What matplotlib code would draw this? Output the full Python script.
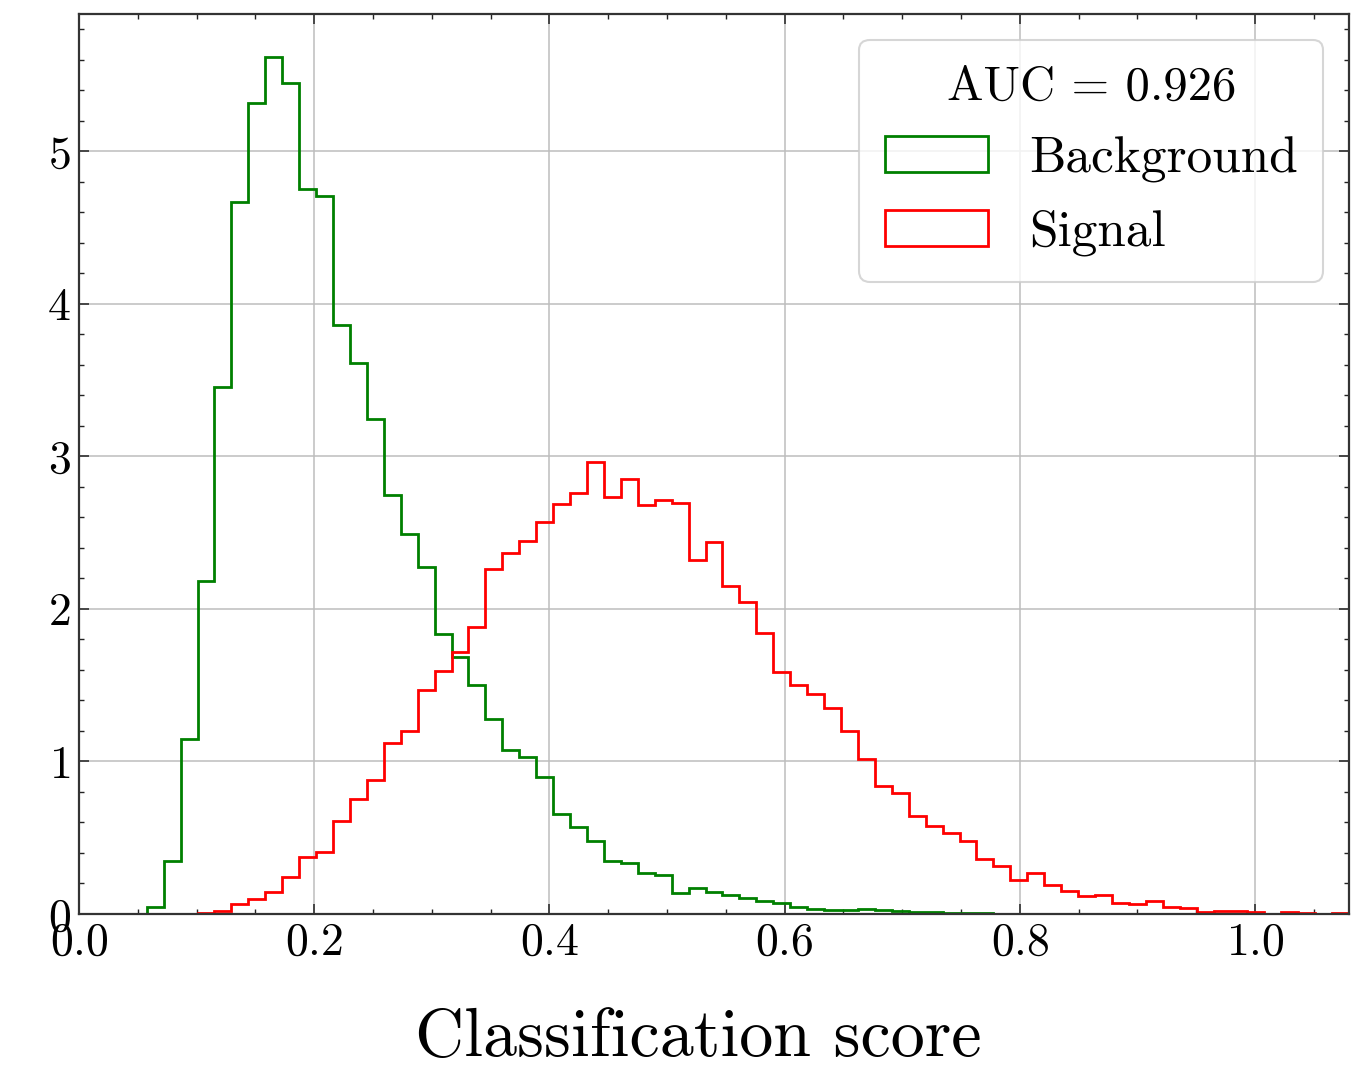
import numpy as np
import matplotlib
matplotlib.use("Agg")
import matplotlib.pyplot as plt

# ---- data (bin heights, 75 bins on [0, 1.08]) ----
x_min, x_max, n_bins = 0.0, 1.08, 75

background = [
    0.0, 0.0, 0.0, 0.0, 0.048, 0.347, 1.147, 2.182, 3.455, 4.668,
    5.319, 5.618, 5.448, 4.755, 4.707, 3.864, 3.615, 3.246, 2.744, 2.490,
    2.276, 1.836, 1.686, 1.501, 1.276, 1.075, 1.027, 0.896, 0.655, 0.572,
    0.478, 0.349, 0.332, 0.271, 0.256, 0.140, 0.172, 0.142, 0.122, 0.105,
    0.085, 0.070, 0.045, 0.030, 0.027, 0.028, 0.030, 0.027, 0.022, 0.015,
    0.010, 0.009, 0.006, 0.004, 0.003, 0.003, 0.002, 0.002, 0.001, 0.001,
    0.001, 0.001, 0.001, 0.0, 0.001, 0.0, 0.0, 0.0, 0.0, 0.0,
    0.0, 0.0, 0.0, 0.0, 0.0,
]

signal = [
    0.0, 0.0, 0.0, 0.0, 0.0, 0.0, 0.003, 0.005, 0.020, 0.065,
    0.098, 0.146, 0.240, 0.371, 0.408, 0.612, 0.754, 0.878, 1.118, 1.199,
    1.470, 1.596, 1.715, 1.883, 2.261, 2.364, 2.444, 2.571, 2.685, 2.763,
    2.960, 2.731, 2.851, 2.680, 2.713, 2.695, 2.320, 2.440, 2.149, 2.047,
    1.843, 1.584, 1.501, 1.440, 1.352, 1.201, 1.013, 0.839, 0.791, 0.644,
    0.577, 0.533, 0.480, 0.358, 0.315, 0.223, 0.271, 0.188, 0.153, 0.118,
    0.125, 0.074, 0.066, 0.083, 0.048, 0.037, 0.011, 0.022, 0.020, 0.015,
    0.002, 0.013, 0.009, 0.002, 0.009,
]

labels = ["Background", "Signal"]
colors = ["green", "red"]
legend_title = "AUC = 0.926"
xlabel = "Classification score"
xticks = [0.0, 0.2, 0.4, 0.6, 0.8, 1.0]
yticks = [0, 1, 2, 3, 4, 5]

# ---- style ----
plt.rcParams["font.family"] = "serif"
plt.rcParams["font.serif"] = ["cmr10", "DejaVu Serif"]
plt.rcParams["mathtext.fontset"] = "cm"
plt.rcParams["axes.formatter.use_mathtext"] = True

fig = plt.figure(figsize=(13.53, 10.67), dpi=100)
ax = fig.add_axes([79 / 1353, 1 - 914 / 1067, (1349 - 79) / 1353, (914 - 14) / 1067])

edges = np.linspace(x_min, x_max, n_bins + 1)
centers = 0.5 * (edges[:-1] + edges[1:])

for vals, lab, col in zip([background, signal], labels, colors):
    ax.hist(centers, bins=edges, weights=vals, histtype="step",
            color=col, linewidth=2.0, label=lab)

ax.set_xlim(x_min, x_max)
ax.set_ylim(0, 5.9)
ax.set_xticks(xticks)
ax.set_yticks(yticks)
ax.xaxis.set_minor_locator(matplotlib.ticker.MultipleLocator(0.05))
ax.yaxis.set_minor_locator(matplotlib.ticker.MultipleLocator(0.2))

ax.tick_params(which="both", direction="in", top=True, right=True,
               labelsize=33, color="#222222")
ax.tick_params(which="major", length=7, width=1.1, pad=6)
ax.tick_params(which="minor", length=3.5, width=1.0)
for sp in ax.spines.values():
    sp.set_linewidth(1.6)
    sp.set_color("#333333")

ax.grid(True, which="major", color="#bdbdbd", linewidth=1.1)
ax.set_axisbelow(True)

ax.set_xlabel(xlabel, fontsize=49, labelpad=28)
ax.xaxis.set_label_coords(0.488, -0.104, transform=ax.transAxes)
ax.xaxis.label.set_verticalalignment("top")

leg = ax.legend(loc="upper right", title=legend_title, fontsize=37,
                title_fontsize=35, framealpha=0.8, edgecolor="#cccccc",
                fancybox=True, labelspacing=0.52, borderpad=0.5)
leg.get_frame().set_linewidth(1.5)

fig.savefig("out.png", dpi=100)
